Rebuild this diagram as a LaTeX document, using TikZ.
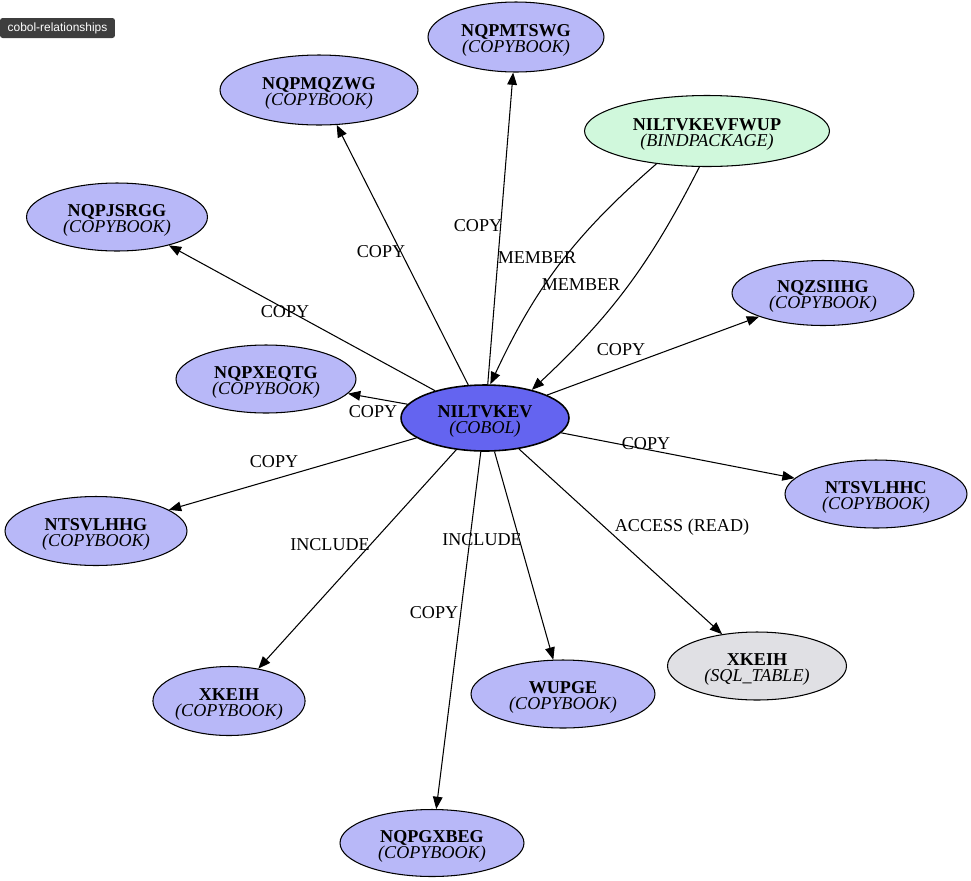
\documentclass[tikz,border=0pt]{standalone}
\usepackage{fontspec}
\setmainfont{Liberation Serif}
\newfontfamily\tagfont{Liberation Sans}
\usetikzlibrary{arrows.meta,shapes.geometric}

\definecolor{cobolblue}{RGB}{100,100,240}
\definecolor{copyblue}{RGB}{184,184,248}
\definecolor{bindgreen}{RGB}{208,248,220}
\definecolor{tablegray}{RGB}{224,224,228}
\definecolor{tagdark}{RGB}{62,62,62}

\newcommand{\entlabel}[2]{\rule{0pt}{10.6pt}\textbf{#1}\\\textit{(#2)}}

\begin{document}
\begin{tikzpicture}[
  x=0.02cm, y=-0.02cm,
  ent/.style={ellipse, draw, line width=0.6pt, inner sep=0pt, align=center, font=\fontsize{10.3}{9.3}\selectfont, minimum height=1.36cm},
  copybook/.style={ent, fill=copyblue},
  program/.style={ent, fill=cobolblue, line width=0.9pt},
  package/.style={ent, fill=bindgreen},
  sqltable/.style={ent, fill=tablegray},
  rel/.style={-{Triangle[length=7pt,width=5.5pt]}, line width=0.6pt},
  lbl/.style={font=\fontsize{10.3}{12}\selectfont, inner sep=1pt},
  tagbox/.style={fill=tagdark, rounded corners=1.5pt, text=white, font=\tagfont\fontsize{6.8}{8}\selectfont, minimum width=2.3cm, minimum height=0.4cm, inner sep=0pt},
]
\useasboundingbox (0,0) rectangle (971,880);

% Tag
\node[tagbox] (tag) at (57.5,28) {cobol-relationships};

% Centre program
\node[program, minimum width=3.36cm, minimum height=1.32cm] (niltvkev) at (485,418) {\entlabel{NILTVKEV}{COBOL}};

% Related nodes
\node[copybook, minimum width=3.52cm, minimum height=1.4cm] (nqpmtswg) at (516,37) {\entlabel{NQPMTSWG}{COPYBOOK}};
\node[copybook, minimum width=3.96cm, minimum height=1.4cm] (nqpmqzwg) at (319,90) {\entlabel{NQPMQZWG}{COPYBOOK}};
\node[package, minimum width=4.9cm, minimum height=1.42cm] (niltvkevfwup) at (707,131) {\entlabel{NILTVKEVFWUP}{BINDPACKAGE}};
\node[copybook, minimum width=3.62cm] (nqpjsrgg) at (117,217) {\entlabel{NQPJSRGG}{COPYBOOK}};
\node[copybook, minimum width=3.64cm, minimum height=1.3cm] (nqzsiihg) at (823,293) {\entlabel{NQZSIIHG}{COPYBOOK}};
\node[copybook, minimum width=3.6cm] (nqpxeqtg) at (266,379) {\entlabel{NQPXEQTG}{COPYBOOK}};
\node[copybook, minimum width=3.64cm] (ntsvlhhc) at (876,494) {\entlabel{NTSVLHHC}{COPYBOOK}};
\node[copybook, minimum width=3.64cm, minimum height=1.38cm] (ntsvlhhg) at (96,531) {\entlabel{NTSVLHHG}{COPYBOOK}};
\node[copybook, minimum width=2.96cm, minimum height=1.38cm] (xkeihcopy) at (229,701) {\entlabel{XKEIH}{COPYBOOK}};
\node[copybook, minimum width=3.68cm] (wupge) at (563,694) {\entlabel{WUPGE}{COPYBOOK}};
\node[sqltable, minimum width=3.58cm] (xkeihtable) at (757,666) {\entlabel{XKEIH}{SQL\_TABLE}};
\node[copybook, minimum width=3.68cm, minimum height=1.34cm] (nqpgxbeg) at (432,843) {\entlabel{NQPGXBEG}{COPYBOOK}};

% Relationships
\draw[rel] (niltvkev) -- (nqpmtswg);
\draw[rel] (niltvkev) -- (nqpmqzwg);
\draw[rel] (niltvkev) -- (nqpjsrgg);
\draw[rel] (niltvkev) -- (nqpxeqtg);
\draw[rel] (niltvkev) -- (ntsvlhhg);
\draw[rel] (niltvkev) -- (xkeihcopy);
\draw[rel] (niltvkev) -- (nqpgxbeg);
\draw[rel] (niltvkev) -- (wupge);
\draw[rel] (niltvkev) -- (xkeihtable);
\draw[rel] (niltvkev) -- (ntsvlhhc);
\draw[rel] (niltvkev) -- (nqzsiihg);
\draw[rel] (niltvkevfwup.213) to[bend right=12] (niltvkev.81);
\draw[rel] (niltvkevfwup.258) to[bend left=10] (niltvkev.31);

% Edge labels
\node[lbl] (l-mtswg) at (478,226) {COPY};
\node[lbl] (l-mqzwg) at (381,252) {COPY};
\node[lbl] (l-jsrgg) at (285,312) {COPY};
\node[lbl] (l-xeqtg) at (373,412) {COPY};
\node[lbl] (l-vlhhg) at (274,462) {COPY};
\node[lbl] (l-xkeih) at (330,545) {INCLUDE};
\node[lbl] (l-gxbeg) at (434,613) {COPY};
\node[lbl] (l-wupge) at (482,540) {INCLUDE};
\node[lbl] (l-table) at (682,527) {ACCESS (READ)};
\node[lbl] (l-vlhhc) at (646,444) {COPY};
\node[lbl] (l-siihg) at (621,350) {COPY};
\node[lbl] (l-member1) at (537,258) {MEMBER};
\node[lbl] (l-member2) at (581,285) {MEMBER};
\end{tikzpicture}
\end{document}
